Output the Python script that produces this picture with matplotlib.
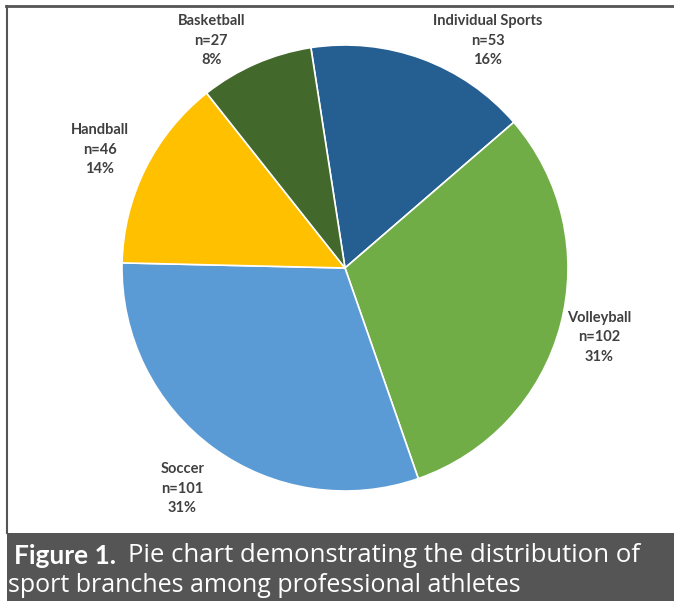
import matplotlib.pyplot as plt
from matplotlib.patches import Rectangle
from matplotlib.lines import Line2D

# Data (clockwise from the top)
sports = ['Individual Sports', 'Volleyball', 'Soccer', 'Handball', 'Basketball']
counts = [53, 102, 101, 46, 27]
percents = ['16%', '31%', '31%', '14%', '8%']
colors = ['#255E91', '#70AD47', '#5B9BD5', '#FFC000', '#43682B']

# label centres in pie units (radius = 1)
label_pos = [(0.64, 1.02), (1.14, -0.31), (-0.73, -0.99), (-1.10, 0.53), (-0.60, 1.02)]

W, H = 674, 601
fig = plt.figure(figsize=(W / 100, H / 100), dpi=100)

# pie axes: centre at (345, 268) px from top-left, radius 223 px
cx, cy, r = 345, 268, 223
half = 300
ax = fig.add_axes([(cx - half) / W, (H - cy - half) / H, 2 * half / W, 2 * half / H])
ax.pie(counts, colors=colors, startangle=98.8, counterclock=False,
       wedgeprops=dict(edgecolor='white', linewidth=1.2))
lim = half / r
ax.set_xlim(-lim, lim)
ax.set_ylim(-lim, lim)
ax.set_aspect('equal')
ax.axis('off')

for name, n, pct, (x, y) in zip(sports, counts, percents, label_pos):
    ax.text(x, y, f"{name}\nn={n}\n{pct}", ha='center', va='center',
            fontsize=10.5, fontweight='bold', family='Lato', color='#404040',
            linespacing=1.5)

# frame lines
fig.add_artist(Line2D([6 / W, 1], [1 - 6 / H, 1 - 6 / H], color='#555555', lw=2))
fig.add_artist(Line2D([7 / W, 7 / W], [1 - 6 / H, 1 - 533 / H], color='#555555', lw=1.5))

# caption box
fig.patches.append(Rectangle((7 / W, 0), 1 - 7 / W, 68 / H, transform=fig.transFigure,
                             facecolor='#555555', edgecolor='none', zorder=5))
t1 = fig.text(14 / W, 1 - 556 / H, "Figure 1.", color='white', fontsize=19,
              fontweight='bold', family='Lato', va='center', zorder=6)
renderer = fig.canvas.get_renderer()
bb = t1.get_window_extent(renderer)
fig.text((bb.x1 + 12) / W, 1 - 556 / H, "Pie chart demonstrating the distribution of",
         color='white', fontsize=18.5, family='Open Sans', va='center', zorder=6)
fig.text(8 / W, 1 - 585 / H, "sport branches among professional athletes",
         color='white', fontsize=18, family='Open Sans', va='center', zorder=6)

plt.savefig('out.png', dpi=100)
